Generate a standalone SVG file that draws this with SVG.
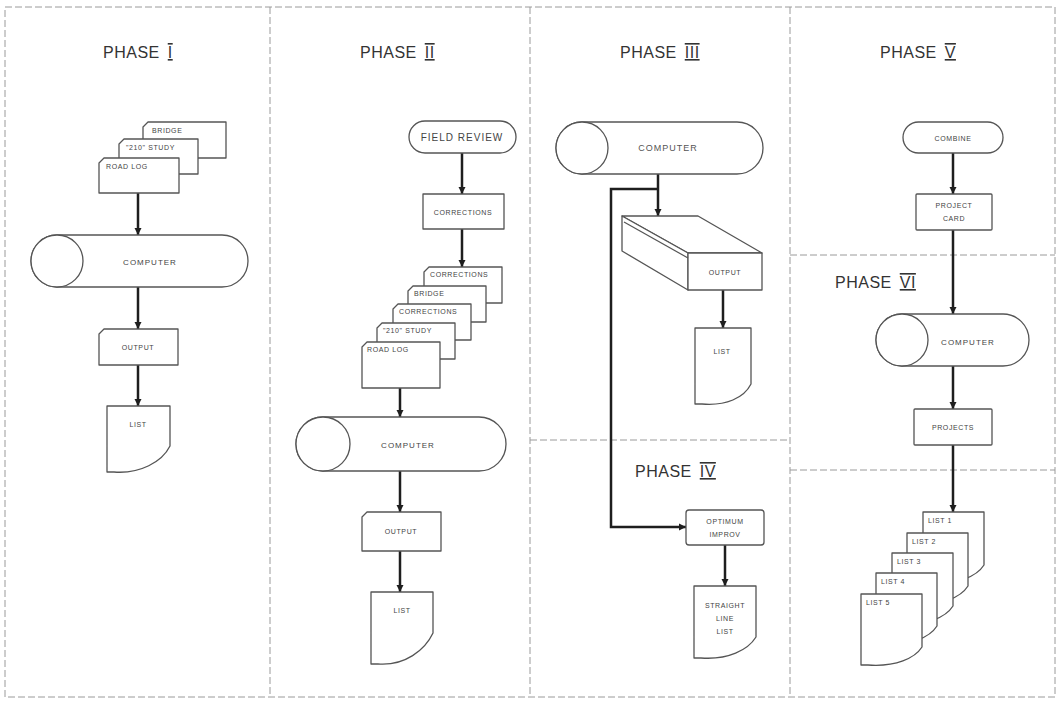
<svg xmlns="http://www.w3.org/2000/svg" width="1059" height="702" viewBox="0 0 1059 702">
<defs>
<style>
.frame{fill:none;stroke:#9a9a9a;stroke-width:1;stroke-dasharray:7 3}
.shp{fill:#fff;stroke:#555;stroke-width:1.3;stroke-linejoin:round}
.con{fill:none;stroke:#1e1e1e;stroke-width:2.5}
.hd{font-family:"Liberation Sans",Arial,sans-serif;font-size:16px;fill:#333;letter-spacing:0.5px}
.num{text-decoration:underline overline}
.lb{font-family:"Liberation Sans",Arial,sans-serif;font-size:7px;fill:#444;letter-spacing:0.6px}
.lbc{font-family:"Liberation Sans",Arial,sans-serif;font-size:7px;fill:#444;letter-spacing:0.6px;text-anchor:middle}
.cp{font-family:"Liberation Sans",Arial,sans-serif;font-size:9px;fill:#555;letter-spacing:1px;text-anchor:middle}
</style>
<marker id="ah" viewBox="0 0 10 10" refX="10" refY="5" markerWidth="7" markerHeight="8" markerUnits="userSpaceOnUse" orient="auto"><path d="M0,0 L10,5 L0,10 Z" fill="#1e1e1e"/></marker>
</defs>
<rect width="1059" height="702" fill="#fff"/>
<g id="frame">
<rect class="frame" x="5" y="7" width="1050" height="690"/>
<line class="frame" x1="270" y1="7" x2="270" y2="697"/>
<line class="frame" x1="530" y1="7" x2="530" y2="697"/>
<line class="frame" x1="790" y1="7" x2="790" y2="697"/>
<line class="frame" x1="530" y1="440" x2="790" y2="440"/>
<line class="frame" x1="790" y1="255" x2="1055" y2="255"/>
<line class="frame" x1="790" y1="470" x2="1055" y2="470"/>
</g>
<g id="headers">
<text class="hd" x="103" y="58">PHASE<tspan class="num" dx="8">I</tspan></text>
<text class="hd" x="360" y="58">PHASE<tspan class="num" dx="8">II</tspan></text>
<text class="hd" x="620" y="58">PHASE<tspan class="num" dx="8">III</tspan></text>
<text class="hd" x="880" y="58">PHASE<tspan class="num" dx="8">V</tspan></text>
<text class="hd" x="635" y="477">PHASE<tspan class="num" dx="8">IV</tspan></text>
<text class="hd" x="835" y="288">PHASE<tspan class="num" dx="8">VI</tspan></text>
</g>
<g id="connectors">
<line class="con" x1="138" y1="193" x2="138" y2="235" marker-end="url(#ah)"/>
<line class="con" x1="138" y1="287" x2="138" y2="329" marker-end="url(#ah)"/>
<line class="con" x1="138" y1="365" x2="138" y2="406" marker-end="url(#ah)"/>
<line class="con" x1="462" y1="153" x2="462" y2="194" marker-end="url(#ah)"/>
<line class="con" x1="462" y1="229" x2="462" y2="267" marker-end="url(#ah)"/>
<line class="con" x1="400" y1="388" x2="400" y2="417" marker-end="url(#ah)"/>
<line class="con" x1="400" y1="471" x2="400" y2="512" marker-end="url(#ah)"/>
<line class="con" x1="400" y1="551" x2="400" y2="592" marker-end="url(#ah)"/>
<line class="con" x1="658" y1="174" x2="658" y2="216" marker-end="url(#ah)"/>
<polyline class="con" points="658,189 611,189 611,527 686,527" marker-end="url(#ah)"/>
<line class="con" x1="723" y1="290" x2="723" y2="328" marker-end="url(#ah)"/>
<line class="con" x1="725" y1="545" x2="725" y2="586" marker-end="url(#ah)"/>
<line class="con" x1="953" y1="153" x2="953" y2="194" marker-end="url(#ah)"/>
<line class="con" x1="953" y1="230" x2="953" y2="314" marker-end="url(#ah)"/>
<line class="con" x1="953" y1="366" x2="953" y2="409" marker-end="url(#ah)"/>
<line class="con" x1="953" y1="445" x2="953" y2="512" marker-end="url(#ah)"/>
</g>
<g id="p1-cards">
<path class="shp" d="M148,122 H226 V158 H143 V127 Z"/>
<text class="lb" x="152" y="133">BRIDGE</text>
<path class="shp" d="M124,139 H198 V174 H119 V144 Z"/>
<text class="lb" x="126" y="150">"210" STUDY</text>
<path class="shp" d="M104,158 H179 V193 H99 V163 Z"/>
<text class="lb" x="106" y="169">ROAD LOG</text>
</g>
<g id="p1-computer">
<rect class="shp" x="31" y="235" width="217" height="52" rx="26"/>
<circle class="shp" cx="57" cy="261" r="26"/>
<text class="cp" x="150" y="265" style="font-size:8px;fill:#444">COMPUTER</text>
</g>
<g id="p1-output">
<path class="shp" d="M104,329 H178 V365 H99 V334 Z"/>
<text class="lbc" x="138" y="350">OUTPUT</text>
</g>
<g id="p1-list">
<path class="shp" d="M107,406 H170 V446 C162,462 140,474 114,472 L107,472 Z"/>
<text class="lbc" x="138" y="427">LIST</text>
</g>
<g id="p2-field-review">
<rect class="shp" x="409" y="121" width="107" height="32" rx="16"/>
<text class="cp" x="462" y="141" style="font-size:10px;fill:#444">FIELD REVIEW</text>
</g>
<g id="p2-corrections">
<rect class="shp" x="423" y="194" width="81" height="35"/>
<text class="lbc" x="463" y="215">CORRECTIONS</text>
</g>
<g id="p2-cards">
<path class="shp" d="M429,267 H502 V303 H424 V272 Z"/>
<text class="lb" x="430" y="277">CORRECTIONS</text>
<path class="shp" d="M413,286 H486 V322 H408 V291 Z"/>
<text class="lb" x="414" y="296">BRIDGE</text>
<path class="shp" d="M398,304 H471 V340 H393 V309 Z"/>
<text class="lb" x="399" y="314">CORRECTIONS</text>
<path class="shp" d="M382,323 H455 V359 H377 V328 Z"/>
<text class="lb" x="383" y="333">"210" STUDY</text>
<path class="shp" d="M367,342 H440 V388 H362 V347 Z"/>
<text class="lb" x="367" y="352">ROAD LOG</text>
</g>
<g id="p2-computer">
<rect class="shp" x="296" y="417" width="210" height="54" rx="27"/>
<circle class="shp" cx="323" cy="444" r="27"/>
<text class="cp" x="408" y="448" style="font-size:8px;fill:#444">COMPUTER</text>
</g>
<g id="p2-output">
<path class="shp" d="M367,512 H441 V551 H362 V517 Z"/>
<text class="lbc" x="401" y="534">OUTPUT</text>
</g>
<g id="p2-list">
<path class="shp" d="M371,592 H433 V633 C425,650 405,666 378,664 L371,664 Z"/>
<text class="lbc" x="402" y="613">LIST</text>
</g>
<g id="p3-computer">
<rect class="shp" x="556" y="122" width="207" height="52" rx="26"/>
<circle class="shp" cx="582" cy="148" r="26"/>
<text class="cp" x="668" y="151">COMPUTER</text>
</g>
<g id="p3-output">
<path class="shp" d="M622,216 H698 L762,253 H688 Z"/>
<path class="shp" d="M622,216 L688,253 V290 L622,251 Z"/>
<rect class="shp" x="688" y="253" width="74" height="37"/>
<line x1="624" y1="222" x2="688" y2="258" stroke="#555" stroke-width="1.2"/>
<text class="lbc" x="725" y="275">OUTPUT</text>
</g>
<g id="p3-list">
<path class="shp" d="M695,328 H751 V384 C744,398 726,406 702,404 L695,404 Z"/>
<text class="lbc" x="722" y="354">LIST</text>
</g>
<g id="p4-optimum">
<rect class="shp" x="686" y="510" width="78" height="35" rx="3"/>
<text class="lbc" x="725" y="524">OPTIMUM</text>
<text class="lbc" x="725" y="537">IMPROV</text>
</g>
<g id="p4-list">
<path class="shp" d="M694,586 H756 V637 C748,650 728,660 701,658 L694,658 Z"/>
<text class="lbc" x="725" y="608">STRAIGHT</text>
<text class="lbc" x="725" y="621">LINE</text>
<text class="lbc" x="725" y="634">LIST</text>
</g>
<g id="p5-combine">
<rect class="shp" x="903" y="122" width="100" height="31" rx="15.5"/>
<text class="lbc" x="953" y="141">COMBINE</text>
</g>
<g id="p5-project-card">
<rect class="shp" x="916" y="194" width="76" height="36" rx="1"/>
<text class="lbc" x="954" y="208">PROJECT</text>
<text class="lbc" x="954" y="221">CARD</text>
</g>
<g id="p6-computer">
<rect class="shp" x="876" y="314" width="153" height="52" rx="26"/>
<circle class="shp" cx="902" cy="340" r="26"/>
<text class="cp" x="968" y="345" style="font-size:8px;fill:#444">COMPUTER</text>
</g>
<g id="p6-projects">
<rect class="shp" x="914" y="409" width="78" height="36" rx="1"/>
<text class="lbc" x="953" y="430">PROJECTS</text>
</g>
<g id="p6-lists">
<path class="shp" d="M923,512 H984 V565 C977,576 958,585 930,583 L923,583 Z"/>
<text class="lb" x="928" y="523">LIST 1</text>
<path class="shp" d="M907,533 H968 V586 C961,597 942,606 914,604 L907,604 Z"/>
<text class="lb" x="912" y="544">LIST 2</text>
<path class="shp" d="M892,553 H953 V606 C946,617 927,626 899,624 L892,624 Z"/>
<text class="lb" x="897" y="564">LIST 3</text>
<path class="shp" d="M876,573 H937 V626 C930,637 911,646 883,644 L876,644 Z"/>
<text class="lb" x="881" y="584">LIST 4</text>
<path class="shp" d="M861,594 H922 V647 C915,658 896,667 868,665 L861,665 Z"/>
<text class="lb" x="866" y="605">LIST 5</text>
</g>
</svg>
